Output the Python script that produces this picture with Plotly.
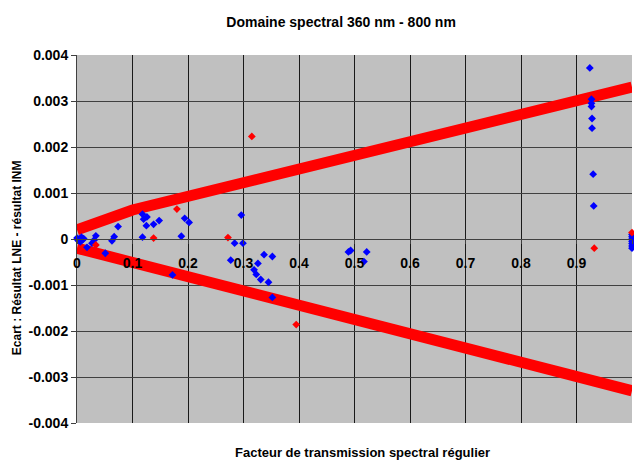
import plotly.graph_objects as go

# Tolerance envelope (upper / lower limits)
tol_x = [0.0, 0.1, 1.0]
tol_upper = [0.0002, 0.00063, 0.0033]
tol_lower = [-0.0002, -0.00051, -0.0033]

# Measurement differences, first series (blue)
blue_x = [0.000, 0.002, 0.004, 0.006, 0.008, 0.010, 0.012,
          0.018, 0.027, 0.031, 0.034, 0.051, 0.063, 0.067, 0.074,
          0.118, 0.120, 0.126, 0.125, 0.138, 0.148, 0.118, 0.172, 0.194, 0.202, 0.188,
          0.296, 0.284, 0.299, 0.277, 0.337, 0.352, 0.326, 0.319, 0.323, 0.331, 0.345, 0.352,
          0.489, 0.493, 0.522, 0.517,
          0.924, 0.927, 0.927, 0.927, 0.928, 0.928, 0.930, 0.931,
          1.0, 1.0, 1.0, 1.0, 1.0, 1.0, 1.0]
blue_y = [0.00002, -0.00003, 0.00000, -0.00006, 0.00004, -0.00002, 0.00001,
          -0.00018, -0.00009, -0.00002, 0.00007, -0.00031, -0.00004, 0.00005, 0.00027,
          0.00054, 0.00043, 0.00048, 0.00029, 0.00032, 0.00040, 0.00004, -0.00078, 0.00045, 0.00036, 0.00006,
          0.00052, -0.00009, -0.00009, -0.00046, -0.00034, -0.00038, -0.00053, -0.00067, -0.00077, -0.00088, -0.00094, -0.00127,
          -0.00028, -0.00025, -0.00028, -0.00049,
          0.00372, 0.00304, 0.00295, 0.00288, 0.00262, 0.00241, 0.00141, 0.00072,
          0.00010, 0.00005, 0.00000, -0.00005, -0.00010, -0.00015, -0.00020]

# Measurement differences, second series (red)
red_x = [0.034, 0.138, 0.180, 0.272, 0.315, 0.395, 0.932, 1.0]
red_y = [-0.00013, 0.00002, 0.00065, 0.00003, 0.00223, -0.00186, -0.00020, 0.00014]

x_ticks = [0.0, 0.1, 0.2, 0.3, 0.4, 0.5, 0.6, 0.7, 0.8, 0.9, 1.0]
x_tick_text = ["0", "0.1", "0.2", "0.3", "0.4", "0.5", "0.6", "0.7", "0.8", "0.9", "1"]
y_ticks = [0.004, 0.003, 0.002, 0.001, 0.0, -0.001, -0.002, -0.003, -0.004]
y_tick_text = ["0.004", "0.003", "0.002", "0.001", "0", "-0.001", "-0.002", "-0.003", "-0.004"]

FONT = "Liberation Sans, Arial, sans-serif"


def bold(labels):
    return [f"<b>{t}</b>" for t in labels]


fig = go.Figure()

for band in (tol_upper, tol_lower):
    fig.add_trace(go.Scatter(x=tol_x, y=band, mode="lines",
                             line=dict(color="#FF0000", width=11),
                             hoverinfo="skip", showlegend=False))

fig.add_trace(go.Scatter(x=blue_x, y=blue_y, mode="markers",
                         marker=dict(symbol="diamond", size=6, color="#0000FF"),
                         cliponaxis=False, showlegend=False))
fig.add_trace(go.Scatter(x=red_x, y=red_y, mode="markers",
                         marker=dict(symbol="diamond", size=6, color="#FF0000"),
                         cliponaxis=False, showlegend=False))

fig.update_layout(
    width=634, height=463,
    margin=dict(l=77, r=2, t=55, b=40),
    paper_bgcolor="white",
    plot_bgcolor="#C0C0C0",
    font=dict(family=FONT, color="black"),
    title=dict(text="<b>Domaine spectral 360 nm - 800 nm</b>",
               x=0.538, xanchor="center", y=0.952, yanchor="middle",
               font=dict(size=14, family=FONT)),
    xaxis=dict(range=[0, 1], tickvals=x_ticks, ticktext=bold(x_tick_text),
               showgrid=True, gridcolor="#1a1a1a", gridwidth=1,
               zeroline=False, showline=True, linecolor="#404040", linewidth=1,
               anchor="free", position=0.5,
               ticks="outside", ticklen=4, tickcolor="#404040",
               ticklabelstandoff=7,
               tickfont=dict(size=14, family=FONT, color="black")),
    yaxis=dict(range=[-0.004, 0.004], tickvals=y_ticks, ticktext=bold(y_tick_text),
               showgrid=True, gridcolor="#404040", gridwidth=1,
               zeroline=False, showline=True, linecolor="#404040", linewidth=1,
               ticks="outside", ticklen=5, tickcolor="#404040",
               tickfont=dict(size=14, family=FONT, color="black")),
)

# axis titles
fig.add_annotation(text="<b>Facteur de transmission spectral régulier</b>",
                   xref="paper", yref="paper", x=0.515, y=-0.079,
                   xanchor="center", yanchor="middle", showarrow=False,
                   font=dict(size=13, family=FONT))
fig.add_annotation(text="<b>Ecart : Résultat LNE - résultat INM</b>",
                   xref="paper", yref="paper", x=-0.108, y=0.448,
                   xanchor="center", yanchor="middle", showarrow=False,
                   textangle=-90, font=dict(size=12, family=FONT))

fig.write_html("out.html")
